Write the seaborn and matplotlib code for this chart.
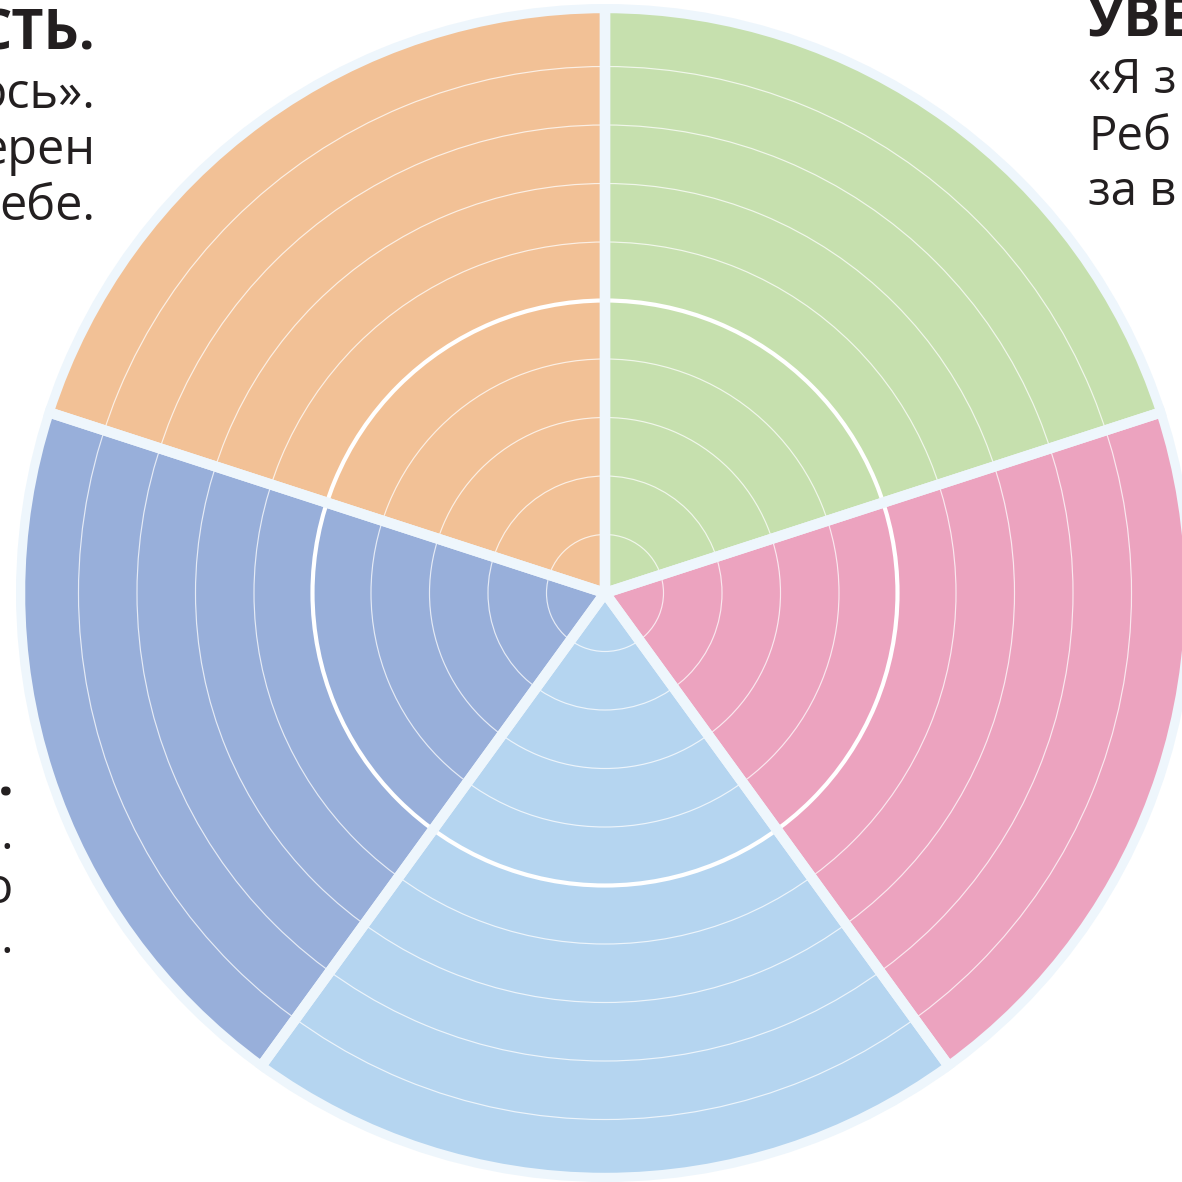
import numpy as np
import pandas as pd
import matplotlib
matplotlib.use("Agg")
import matplotlib.pyplot as plt
import seaborn as sns

# ---- data ----
categories = ["green", "pink", "lightblue", "blue", "orange"]
theta_centers_deg = [36, 108, 180, 252, 324]
values = [10, 10, 10, 10, 10]
colors = ["#C6E0AE", "#ECA3BF", "#B5D5F0", "#98AFDA", "#F2C196"]
ring_levels = [1, 2, 3, 4, 5, 6, 7, 8, 9]
sep_color = "#EEF6FC"

left_top_bold = "СТЬ."
left_top_lines = ["ось».", "ерен", "ебе."]
right_top_bold = "УВЕ"
right_top_lines = ["«Я з", "Реб", "за в"]
left_bottom_bold = "."
left_bottom_lines = [".", "о", "."]

sns.set_theme(style="white")
plt.rcParams["font.family"] = ["Open Sans", "DejaVu Sans"]

W = H = 1182
fig = plt.figure(figsize=(W / 100, H / 100), dpi=100)
fig.patch.set_facecolor("white")

cx, cy = 605, 593
R_axes = 589
ax = fig.add_axes([(cx - R_axes) / W, (H - cy - R_axes) / H, 2 * R_axes / W, 2 * R_axes / H],
                  projection="polar")
ax.set_theta_zero_location("N")
ax.set_theta_direction(-1)

df = pd.DataFrame({
    "theta": np.deg2rad(theta_centers_deg),
    "value": values,
    "cat": categories,
})

sns.barplot(data=df, x="theta", y="value", hue="cat", palette=colors,
            native_scale=True, width=1.0, saturation=1, legend=False,
            linewidth=0, ax=ax, errorbar=None, zorder=1)
sns.barplot(data=df, x="theta", y="value", native_scale=True, width=1.0,
            saturation=1, fill=False, color=sep_color, linewidth=7.5,
            ax=ax, errorbar=None, zorder=3)

ax.set_thetalim(0, 2 * np.pi)
ax.set_ylim(0, 10 * R_axes / 585)
ax.set_yticks(ring_levels)
ax.set_yticklabels([])
ax.set_xticks([])
ax.set_xlabel("")
ax.set_ylabel("")
ax.set_axisbelow(False)
ax.yaxis.grid(True, color="white", alpha=0.75, linewidth=0.85)
ax.xaxis.grid(False)
for lvl, gl in zip(ring_levels, ax.yaxis.get_gridlines()):
    gl.set_zorder(2.5)
    if lvl == 5:
        gl.set_linewidth(3.0)
        gl.set_alpha(1.0)
ax.spines["polar"].set_visible(False)
ax.set_facecolor("white")


def px(x, y):
    return x / W, 1 - y / H


txtc = "#231F20"
# top-left block
fig.text(*px(95, 50), left_top_bold, ha="right", va="baseline", fontsize=40,
         fontweight="bold", color=txtc)
for yb, s in zip([108, 164, 220], left_top_lines):
    fig.text(*px(95, yb), s, ha="right", va="baseline", fontsize=35, color=txtc)

# top-right block
fig.text(*px(1088, 36), right_top_bold, ha="left", va="baseline", fontsize=40,
         fontweight="bold", color=txtc)
for yb, s in zip([93, 150, 205], right_top_lines):
    fig.text(*px(1088, yb), s, ha="left", va="baseline", fontsize=34, color=txtc)

# left-bottom fragments
fig.text(*px(14, 795), left_bottom_bold, ha="right", va="baseline", fontsize=40,
         fontweight="bold", color=txtc)
for yb, s in zip([849, 903, 953], left_bottom_lines):
    fig.text(*px(13, yb), s, ha="right", va="baseline", fontsize=35, color=txtc)

fig.savefig("out.png", dpi=100, facecolor="white")
